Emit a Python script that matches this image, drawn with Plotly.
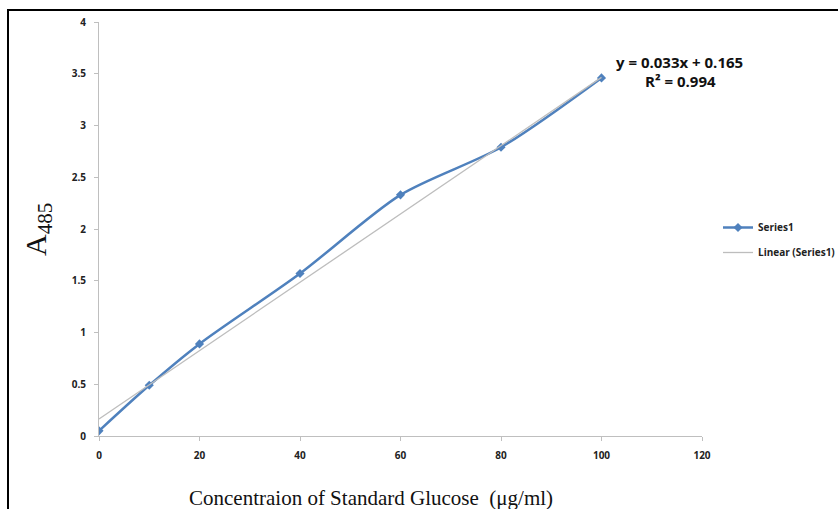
import numpy as np
import plotly.graph_objects as go

conc = [0, 10, 20, 40, 60, 80, 100]
absorb = [0.05, 0.49, 0.89, 1.57, 2.33, 2.79, 3.46]
slope = 0.033
intercept = 0.165
r2 = 0.994
y_ticks = [0, 0.5, 1, 1.5, 2, 2.5, 3, 3.5, 4]
x_ticks = [0, 20, 40, 60, 80, 100, 120]

W, H = 838, 509
L, T = 99, 22
R = W - 702
B = H - 436
pw, ph = W - L - R, H - T - B


def px(xp):
    return (xp - L) / pw


def py(yp):
    return (H - B - yp) / ph


fit_x = [min(conc), max(conc)]
fit_y = [slope * v + intercept for v in fit_x]

tickfont = dict(family="Open Sans", size=10, color="#222", weight="bold")

fig = go.Figure()
fig.add_trace(go.Scatter(x=conc, y=absorb, mode="lines+markers", name="Series1", legendgroup="a",
                         line=dict(color="#4F81BD", width=2.5, shape="spline", smoothing=0.8),
                         marker=dict(symbol="diamond", size=7, color="#4F81BD")))
fig.add_trace(go.Scatter(x=fit_x, y=fit_y, mode="lines", name="Linear (Series1)", legendgroup="b",
                         line=dict(color="#BDBDBD", width=1.3)))

fig.update_layout(
    width=W, height=H,
    margin=dict(l=L, r=R, t=T, b=B, autoexpand=False),
    paper_bgcolor="white", plot_bgcolor="white",
    xaxis=dict(range=[0, 120], tickvals=x_ticks, showgrid=False, zeroline=False,
               showline=True, linecolor="#BFBFBF", linewidth=1,
               ticks="outside", ticklen=4, tickcolor="#BFBFBF",
               tickfont=tickfont, ticklabelstandoff=6, automargin=False),
    yaxis=dict(range=[0, 4], tickvals=y_ticks, showgrid=False, zeroline=False,
               showline=True, linecolor="#BFBFBF", linewidth=1,
               ticks="outside", ticklen=4, tickcolor="#BFBFBF",
               tickfont=tickfont, ticklabelstandoff=6, automargin=False),
    legend=dict(x=px(718), y=py(240), xanchor="left", yanchor="middle",
                font=dict(family="Open Sans", size=10, color="#222", weight="bold"),
                bgcolor="rgba(0,0,0,0)", itemwidth=30, tracegroupgap=6),
    showlegend=True,
)

ann = dict(xref="paper", yref="paper", showarrow=False, xanchor="center", yanchor="middle")
fig.add_annotation(x=px(679), y=py(62), text="y = %.3fx + %.3f" % (slope, intercept),
                   font=dict(family="Open Sans", size=15, color="#111", weight="bold"), **ann)
fig.add_annotation(x=px(680), y=py(81), text="R² = %.3f" % r2,
                   font=dict(family="Open Sans", size=15, color="#111", weight="bold"), **ann)
fig.add_annotation(x=px(38), y=py(230), text="A<sub>485</sub>", textangle=-90,
                   font=dict(family="Liberation Serif", size=30, color="#111"), **ann)
fig.add_annotation(x=px(371), y=py(498), text="Concentraion of Standard Glucose  (μg/ml)",
                   font=dict(family="Liberation Serif", size=21, color="#111"), **ann)

fig.add_shape(type="rect", xref="paper", yref="paper",
              x0=px(8), x1=px(900), y0=py(560), y1=py(10),
              line=dict(color="black", width=2), fillcolor="rgba(0,0,0,0)", layer="below")

fig.write_html("out.html", config={"displayModeBar": False},
               post_script="document.body.style.margin='0';document.body.style.overflow='hidden';")
